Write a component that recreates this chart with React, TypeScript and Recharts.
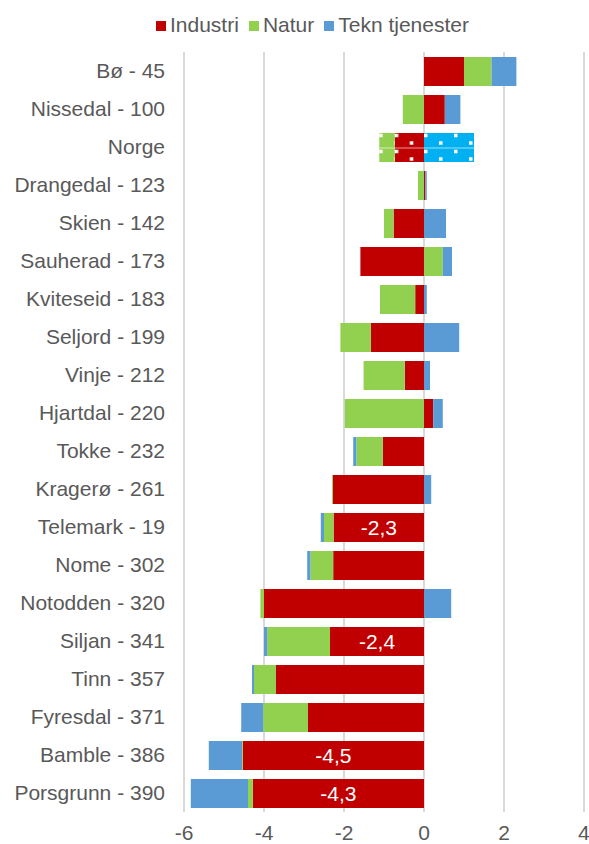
import React from 'react';
import { BarChart, Bar, XAxis, YAxis, CartesianGrid, Legend, LabelList, Cell } from 'recharts';

// ----------------------------------------------------------------------------
// Data
// ----------------------------------------------------------------------------

const kommuner = [
  'Bø - 45', 'Nissedal - 100', 'Norge', 'Drangedal - 123', 'Skien - 142',
  'Sauherad - 173', 'Kviteseid - 183', 'Seljord - 199', 'Vinje - 212', 'Hjartdal - 220',
  'Tokke - 232', 'Kragerø - 261', 'Telemark - 19', 'Nome - 302', 'Notodden - 320',
  'Siljan - 341', 'Tinn - 357', 'Fyresdal - 371', 'Bamble - 386', 'Porsgrunn - 390',
];

const industri = [
  1.0, 0.52, -0.73, 0.03, -0.76,
  -1.59, -0.22, -1.33, -0.48, 0.23,
  -1.03, -2.28, -2.26, -2.27, -4.0,
  -2.35, -3.7, -2.9, -4.53, -4.28,
];

const natur = [
  0.69, -0.53, -0.39, -0.15, -0.24,
  0.47, -0.88, -0.76, -1.03, -1.98,
  -0.66, -0.02, -0.24, -0.57, -0.09,
  -1.57, -0.55, -1.12, -0.02, -0.12,
];

const teknTjenester = [
  0.62, 0.39, 1.25, 0.04, 0.55,
  0.23, 0.07, 0.88, 0.15, 0.24,
  -0.08, 0.18, -0.08, -0.08, 0.68,
  -0.08, -0.05, -0.55, -0.83, -1.43,
];

// only a few of the red bars carry a value label
const industriEtiketter = [
  null, null, null, null, null,
  null, null, null, null, null,
  null, null, '-2,3', null, null,
  '-2,4', null, null, '-4,5', '-4,3',
];

const xTicks = [-6, -4, -2, 0, 2, 4];

const data = kommuner.map((name, i) => ({
  name,
  industri: industri[i],
  natur: natur[i],
  tekn: teknTjenester[i],
  etikett: industriEtiketter[i],
}));

// ----------------------------------------------------------------------------
// Styling
// ----------------------------------------------------------------------------

const RED = '#C00000';
const GREEN = '#92D050';
const BLUE = '#5B9BD5';
const NORGE_BLUE = '#00B0F0';
const TEXT = '#595959';
const FONT = '"Liberation Sans", Arial, sans-serif';

// dotted fill used for the Norge row
const DotPattern: React.FC<{ id: string; color: string }> = ({ id, color }) => {
  const dots: React.ReactNode[] = [];
  for (let k = 0; k < 6; k++) {
    [2.5, 18.5].forEach((y) => dots.push(<rect key={`a${k}${y}`} x={30 * k} y={y - 1.75} width={3.5} height={3.5} fill="#fff" />));
    [10, 26].forEach((y) => dots.push(<rect key={`b${k}${y}`} x={15 + 30 * k} y={y - 1.75} width={3.5} height={3.5} fill="#fff" />));
  }
  return (
    <pattern id={id} patternUnits="objectBoundingBox" x={0} y={0} width={1} height={1}>
      <rect x={0} y={0} width={200} height={40} fill={color} />
      <rect x={0} y={14.5} width={200} height={1} fill="#fff" fillOpacity={0.6} />
      {dots}
    </pattern>
  );
};

const legendText = (value: string) => <span style={{ color: TEXT }}>{value}</span>;

export default function App() {
  return (
    <div style={{ position: 'absolute', left: 0, top: 0, fontFamily: FONT }}>
      <BarChart
        width={589}
        height={844}
        data={data}
        layout="vertical"
        stackOffset="sign"
        barSize={29}
        margin={{ top: 28, right: 5, bottom: 0, left: 0 }}
      >
        <defs>
          <DotPattern id="norgeRed" color={RED} />
          <DotPattern id="norgeGreen" color={GREEN} />
          <DotPattern id="norgeBlue" color={NORGE_BLUE} />
        </defs>
        <CartesianGrid horizontal={false} stroke="#D9D9D9" strokeWidth={2} />
        <XAxis
          type="number"
          domain={[-6, 4]}
          ticks={xTicks}
          axisLine={false}
          tickLine={false}
          tickSize={0}
          tickMargin={13}
          height={32}
          tick={{ fill: TEXT, fontSize: 21, fontFamily: FONT }}
        />
        <YAxis
          type="category"
          dataKey="name"
          width={184}
          interval={0}
          axisLine={false}
          tickLine={false}
          tickSize={0}
          tickMargin={19}
          tick={{ fill: TEXT, fontSize: 21, fontFamily: FONT }}
        />
        <Legend
          verticalAlign="top"
          align="left"
          iconType="square"
          iconSize={10}
          formatter={legendText}
          wrapperStyle={{ top: 13, left: 156, width: 'auto', fontSize: 21, fontFamily: FONT }}
        />
        <Bar dataKey="industri" name="Industri" stackId="s" fill={RED} isAnimationActive={false}>
          {data.map((d) => (
            <Cell key={d.name} fill={d.name === 'Norge' ? 'url(#norgeRed)' : RED} />
          ))}
          <LabelList dataKey="etikett" position="center" fill="#fff" fontSize={21} fontFamily={FONT} />
        </Bar>
        <Bar dataKey="natur" name="Natur" stackId="s" fill={GREEN} isAnimationActive={false}>
          {data.map((d) => (
            <Cell key={d.name} fill={d.name === 'Norge' ? 'url(#norgeGreen)' : GREEN} />
          ))}
        </Bar>
        <Bar dataKey="tekn" name="Tekn tjenester" stackId="s" fill={BLUE} isAnimationActive={false}>
          {data.map((d) => (
            <Cell key={d.name} fill={d.name === 'Norge' ? 'url(#norgeBlue)' : BLUE} />
          ))}
        </Bar>
      </BarChart>
    </div>
  );
}
